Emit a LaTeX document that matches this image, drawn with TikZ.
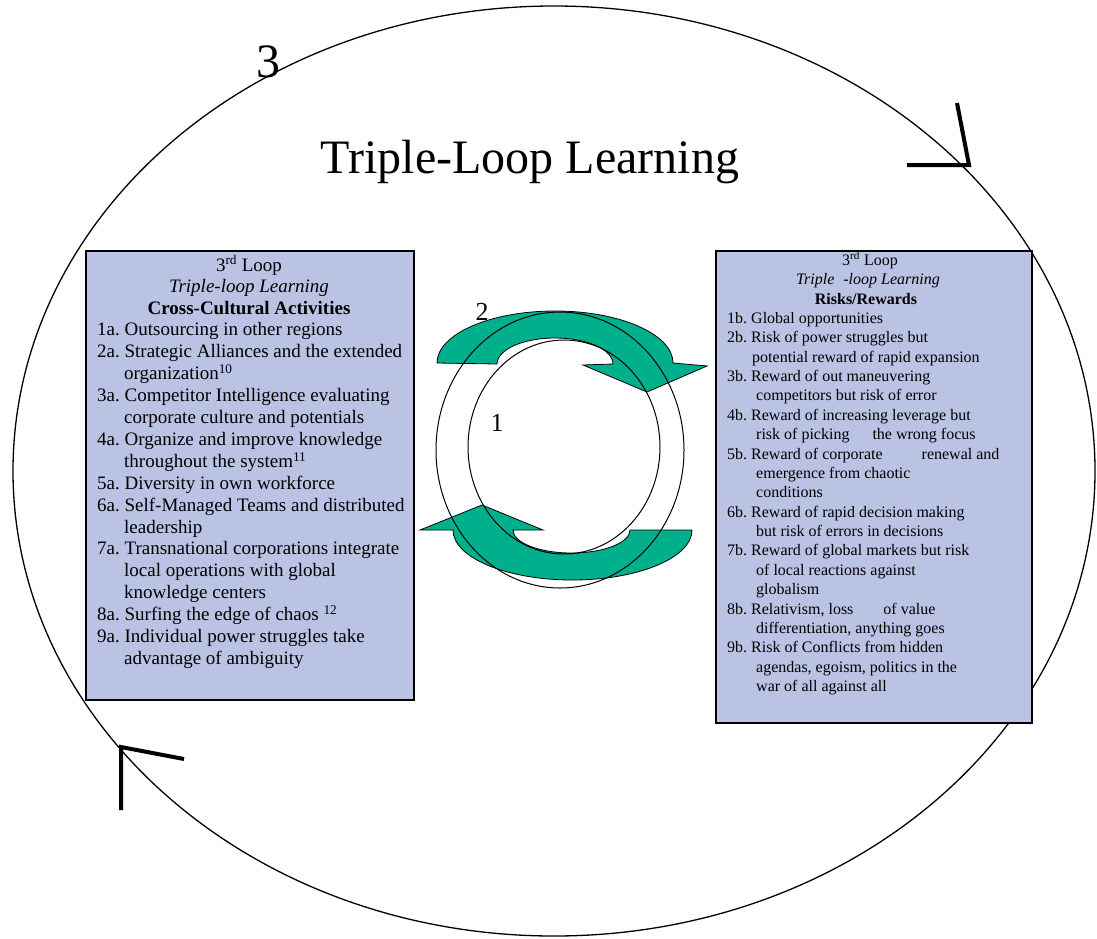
\documentclass[tikz,border=0pt]{standalone}
\usepackage{fontspec}
\setmainfont{Liberation Serif}
\frenchspacing
\definecolor{boxfill}{RGB}{186,195,228}
\definecolor{arrowgreen}{RGB}{0,176,140}
\tikzset{
	panel/.style={draw=black, line width=1.5pt, fill=boxfill, inner sep=0pt},
	looparrow/.style={draw=black, line width=0.8pt, fill=arrowgreen},
	ringline/.style={draw=black, line width=1pt},
	turnmark/.style={line width=4pt},
	lefttext/.style={font=\fontsize{19}{22}\selectfont, inner sep=0pt},
	righttext/.style={font=\fontsize{16}{19.4}\selectfont, inner sep=0pt},
}
\begin{document}
\begin{tikzpicture}[x=1pt, y=-1pt]
	\useasboundingbox (0,0) rectangle (1097,938);
	% third loop
	\draw[line width=1.3pt] (554,471) ellipse [x radius=541, y radius=465];
	\draw[turnmark] (957,103) -- (969,165) -- (907,165);
	\draw[turnmark] (121,810) -- (121,747) -- (184,759);
	\node[font=\fontsize{48}{58}\selectfont, anchor=base] (third) at (268,77) {3};
	\node[font=\fontsize{48}{58}\selectfont, anchor=base] (title) at (530,173) {Triple-Loop Learning};
	% boxes
	\node[panel, minimum width=328, minimum height=449, anchor=north west] (actbox) at (85,250) {};
	\node[panel, minimum width=316, minimum height=472, anchor=north west] (riskbox) at (715,250) {};
	\node[lefttext, anchor=base] (acthead1) at (249,271) {3\textsuperscript{rd} Loop};
	\node[lefttext, anchor=base] (acthead2) at (249,292) {\itshape Triple-loop Learning};
	\node[lefttext, anchor=base] (acthead3) at (249,314) {\bfseries Cross-Cultural Activities};
	\node[righttext, anchor=base] (riskhead1) at (870,265.7) {3\textsuperscript{rd} Loop};
	\node[righttext, anchor=base] (riskhead2) at (868,284) {\itshape Triple\hspace{5pt} -loop Learning};
	\node[righttext, anchor=base] (riskhead3) at (866,304.3) {\bfseries Risks/Rewards};
	\foreach \x/\txt [count=\i] in {97/{1a. Outsourcing in other regions},
		97/{2a. Strategic Alliances and the extended},
		124/{organization\textsuperscript{10}},
		97/{3a. Competitor Intelligence evaluating},
		124/{corporate culture and potentials},
		97/{4a. Organize and improve knowledge},
		124/{throughout the system\textsuperscript{11}},
		97/{5a. Diversity in own workforce},
		97/{6a. Self-Managed Teams and distributed},
		124/{leadership},
		97/{7a. Transnational corporations integrate},
		124/{local operations with global},
		124/{knowledge centers},
		97/{8a. Surfing the edge of chaos \textsuperscript{12}},
		97/{9a. Individual power struggles take},
		124/{advantage of ambiguity}}
		\node[lefttext, anchor=base west] (act\i) at (\x, 314+21.9*\i) {\txt};
	\foreach \x/\txt [count=\i] in {727/{1b. Global opportunities},
		727/{2b. Risk of power struggles but},
		752/{potential reward of rapid expansion},
		727/{3b. Reward of out maneuvering},
		756/{competitors but risk of error},
		727/{4b. Reward of increasing leverage but},
		756/{risk of picking\hspace{19pt} the wrong focus},
		727/{5b. Reward of corporate\hspace{35pt} renewal and},
		756/{emergence from chaotic},
		756/{conditions},
		727/{6b. Reward of rapid decision making},
		756/{but risk of errors in decisions},
		727/{7b. Reward of global markets but risk},
		756/{of local reactions against},
		756/{globalism},
		727/{8b. Relativism, loss\hspace{26pt} of value},
		756/{differentiation, anything goes},
		727/{9b. Risk of Conflicts from hidden},
		756/{agendas, egoism, politics in the},
		756/{war of all against all}}
		\node[righttext, anchor=base west] (risk\i) at (\x, 303.9+19.39*\i) {\txt};
	% first and second loop
	\draw[looparrow] (437,363) arc [start angle=180, end angle=360, x radius=118, y radius=52]
		-- (707,366) -- (647,392) -- (583,365) -- (613,364)
		arc [start angle=360, end angle=180, x radius=58, y radius=26] -- cycle;
	\draw[looparrow] (692,530) arc [start angle=0, end angle=180, x radius=119.5, y radius=50]
		-- (420,530) -- (482,505) -- (543,530) -- (513,530)
		arc [start angle=180, end angle=0, x radius=58.5, y radius=23] -- cycle;
	\draw[ringline] (560,450) ellipse [x radius=124, y radius=138];
	\draw[ringline] (564,447) ellipse [x radius=96, y radius=107];
	\node[font=\fontsize{26}{30}\selectfont] (second) at (482,312) {2};
	\node[font=\fontsize{26}{30}\selectfont] (first) at (497,423) {1};
\end{tikzpicture}
\end{document}
